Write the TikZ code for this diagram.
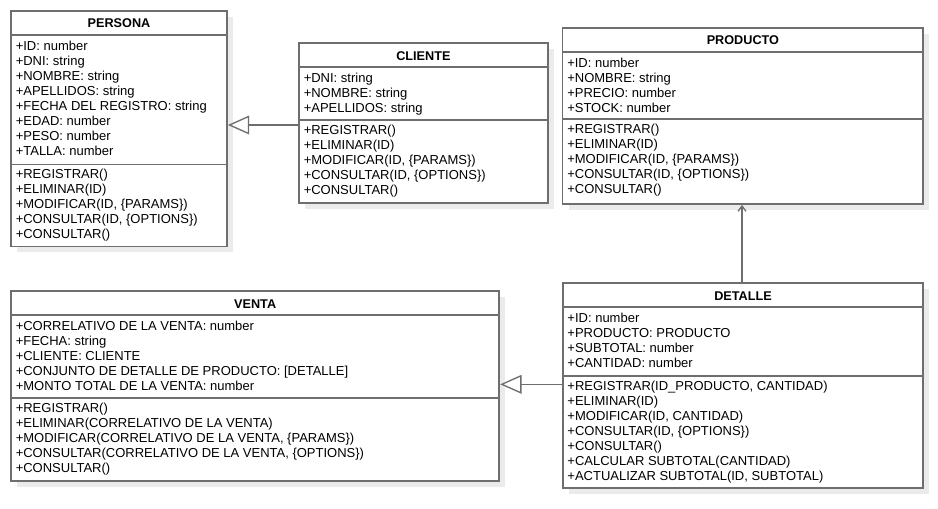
\documentclass[tikz,border=0pt]{standalone}
\usepackage{fontspec}
\setmainfont{Liberation Sans}
\usetikzlibrary{arrows.meta,fit}
\definecolor{bordc}{HTML}{6E6E6E}
\definecolor{shadc}{HTML}{EBEBEB}
\tikzset{
 clsbox/.style={draw=bordc, line width=1.3pt, fill=white, inner sep=0pt},
 clsline/.style={draw=bordc, line width=1.3pt},
 shad/.style={fill=shadc},
 txt/.style={inner sep=0pt, anchor=base west, font=\fontsize{9.75pt}{11pt}\selectfont},
 ttl/.style={inner sep=0pt, anchor=base, font=\fontsize{9.5pt}{11pt}\selectfont\bfseries},
 gen/.style={draw=bordc, line width=1pt, -{Triangle[open, length=16pt, width=14pt, line width=1pt]}},
 assoc/.style={draw=bordc, line width=1pt, -{Straight Barb[length=4pt, width=6pt, line width=1pt]}}
}
\newcommand\umlclass[9]{%
 \fill[shad] ({#2+6},{#3+6}) rectangle ({#4+6},{#5+6});
 \node[clsbox, fit={(#2,#3)(#4,#5)}] (#1) {};
 \draw[clsline] (#2,{#3+24}) -- (#4,{#3+24});
 \draw[clsline] (#2,#6) -- (#4,#6);
 \node[ttl] (#1-t) at ({(#2+#4)/2},{#3+17}) {#7};
 \foreach \t [count=\i] in {#8} \node[txt] (#1-a\i) at ({#2+4.5},{#3+39.5+15*(\i-1)}) {\t};
 \foreach \t [count=\i] in {#9} \node[txt] (#1-m\i) at ({#2+4.5},{#6+14+15*(\i-1)}) {\t};
}
\begin{document}
\begin{tikzpicture}[x=0.75pt,y=-0.75pt]
\useasboundingbox (0,0) rectangle (938,509);
\fill[white] (0,0) rectangle (938,509);

\umlclass{persona}{11}{11}{227}{246.5}{164.5}{PERSONA}%
 {{+ID: number},{+DNI: string},{+NOMBRE: string},{+APELLIDOS: string},{+FECHA DEL REGISTRO: string},{+EDAD: number},{+PESO: number},{+TALLA: number}}%
 {{+REGISTRAR()},{+ELIMINAR(ID)},{+MODIFICAR(ID, \{PARAMS\})},{+CONSULTAR(ID, \{OPTIONS\})},{+CONSULTAR()}}

\umlclass{cliente}{299}{43.3}{547.7}{202.7}{120.3}{CLIENTE}%
 {{+DNI: string},{+NOMBRE: string},{+APELLIDOS: string}}%
 {{+REGISTRAR()},{+ELIMINAR(ID)},{+MODIFICAR(ID, \{PARAMS\})},{+CONSULTAR(ID, \{OPTIONS\})},{+CONSULTAR()}}

\umlclass{producto}{562.5}{27.7}{923.3}{204}{119.3}{PRODUCTO}%
 {{+ID: number},{+NOMBRE: string},{+PRECIO: number},{+STOCK: number}}%
 {{+REGISTRAR()},{+ELIMINAR(ID)},{+MODIFICAR(ID, \{PARAMS\})},{+CONSULTAR(ID, \{OPTIONS\})},{+CONSULTAR()}}

\umlclass{venta}{11}{291.2}{499.3}{481}{398}{VENTA}%
 {{+CORRELATIVO DE LA VENTA: number},{+FECHA: string},{+CLIENTE: CLIENTE},{+CONJUNTO DE DETALLE DE PRODUCTO: [DETALLE]},{+MONTO TOTAL DE LA VENTA: number}}%
 {{+REGISTRAR()},{+ELIMINAR(CORRELATIVO DE LA VENTA)},{+MODIFICAR(CORRELATIVO DE LA VENTA, \{PARAMS\})},{+CONSULTAR(CORRELATIVO DE LA VENTA, \{OPTIONS\})},{+CONSULTAR()}}

\umlclass{detalle}{562.7}{283.3}{923.3}{488}{376}{DETALLE}%
 {{+ID: number},{+PRODUCTO: PRODUCTO},{+SUBTOTAL: number},{+CANTIDAD: number}}%
 {{+REGISTRAR(ID\_PRODUCTO, CANTIDAD)},{+ELIMINAR(ID)},{+MODIFICAR(ID, CANTIDAD)},{+CONSULTAR(ID, \{OPTIONS\})},{+CONSULTAR()},{+CALCULAR SUBTOTAL(CANTIDAD)},{+ACTUALIZAR SUBTOTAL(ID, SUBTOTAL)}}

\draw[gen] ([yshift=-1.5pt]cliente.west) -- ([yshift=-1.5pt]persona.east |- cliente.west);
\draw[gen] ([yshift=1pt]detalle.west) -- ([yshift=1pt]venta.east |- detalle.west);
\draw[assoc] ([xshift=-0.75pt]detalle.north) -- ([xshift=-0.75pt]detalle.north |- producto.south);
\end{tikzpicture}
\end{document}
